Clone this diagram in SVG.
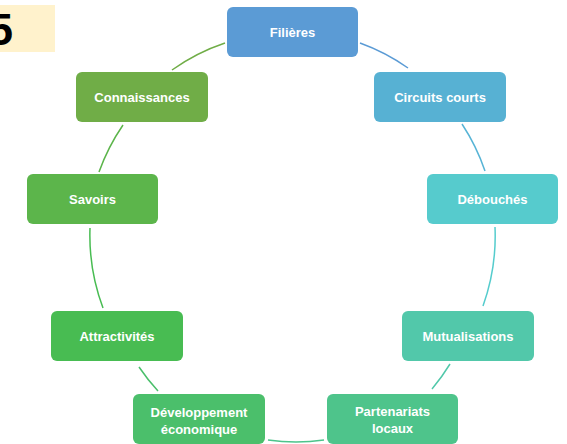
<svg xmlns="http://www.w3.org/2000/svg" width="567" height="444" viewBox="0 0 567 444">
  <style>
    .box { stroke: none; }
    .lbl { font-family: "Liberation Sans", Arial, sans-serif; font-weight: bold; font-size: 13px; fill: #ffffff; text-anchor: middle; }
    .arc { fill: none; stroke-width: 1.5; }
  </style>
  <rect width="567" height="444" fill="#ffffff"/>
  <g id="badge">
    <rect x="0" y="5" width="55" height="47" fill="#FFF2CC"/>
    <text x="13" y="45" font-family="Liberation Sans, Arial, sans-serif" font-weight="bold" font-size="44" fill="#000000" text-anchor="end">5</text>
  </g>
  <g id="connectors">
    <path class="arc" stroke="#5B9BD5" d="M360,43 A203,205 0 0 1 408,68"/>
    <path class="arc" stroke="#57B4D6" d="M462,124 A203,205 0 0 1 485,171"/>
    <path class="arc" stroke="#55CCCD" d="M495,227 A203,205 0 0 1 483,306"/>
    <path class="arc" stroke="#51C8AA" d="M450,364 A203,205 0 0 1 432,389"/>
    <path class="arc" stroke="#4DC48B" d="M324,440 A203,205 0 0 1 268,440"/>
    <path class="arc" stroke="#4ABF6B" d="M158,391 A203,205 0 0 1 139,367"/>
    <path class="arc" stroke="#48BC52" d="M103,308 A203,205 0 0 1 90,228"/>
    <path class="arc" stroke="#5CB54B" d="M99,172 A203,205 0 0 1 123,125"/>
    <path class="arc" stroke="#70AD47" d="M172,70 A203,205 0 0 1 225,43"/>
  </g>
  <g id="n-filieres">
    <rect class="box" x="227" y="7" width="131" height="50" rx="6" fill="#5B9BD5"/>
    <text class="lbl" x="292.5" y="36.5">Filières</text>
  </g>
  <g id="n-circuits">
    <rect class="box" x="374" y="72" width="132" height="50" rx="6" fill="#57B1D3"/>
    <text class="lbl" x="440" y="101.5">Circuits courts</text>
  </g>
  <g id="n-debouches">
    <rect class="box" x="427" y="174" width="131" height="50" rx="6" fill="#56CBCD"/>
    <text class="lbl" x="492.5" y="203.5">Débouchés</text>
  </g>
  <g id="n-mutualisations">
    <rect class="box" x="402" y="311" width="132" height="50" rx="6" fill="#52C8AA"/>
    <text class="lbl" x="468" y="340.5">Mutualisations</text>
  </g>
  <g id="n-partenariats">
    <rect class="box" x="327" y="394" width="131" height="50" rx="6" fill="#4EC48B"/>
    <text class="lbl" x="392.5" y="415.5">Partenariats</text>
    <text class="lbl" x="392.5" y="432.5">locaux</text>
  </g>
  <g id="n-developpement">
    <rect class="box" x="133" y="394" width="132" height="50" rx="6" fill="#4BBF6B"/>
    <text class="lbl" x="199" y="416.5">Développement</text>
    <text class="lbl" x="199" y="433.5">économique</text>
  </g>
  <g id="n-attractivites">
    <rect class="box" x="51" y="311" width="132" height="50" rx="6" fill="#48BC52"/>
    <text class="lbl" x="117" y="340.5">Attractivités</text>
  </g>
  <g id="n-savoirs">
    <rect class="box" x="27" y="174" width="131" height="50" rx="6" fill="#5CB54B"/>
    <text class="lbl" x="92.5" y="203.5">Savoirs</text>
  </g>
  <g id="n-connaissances">
    <rect class="box" x="76" y="72" width="132" height="50" rx="6" fill="#70AD47"/>
    <text class="lbl" x="142" y="101.5">Connaissances</text>
  </g>
</svg>
